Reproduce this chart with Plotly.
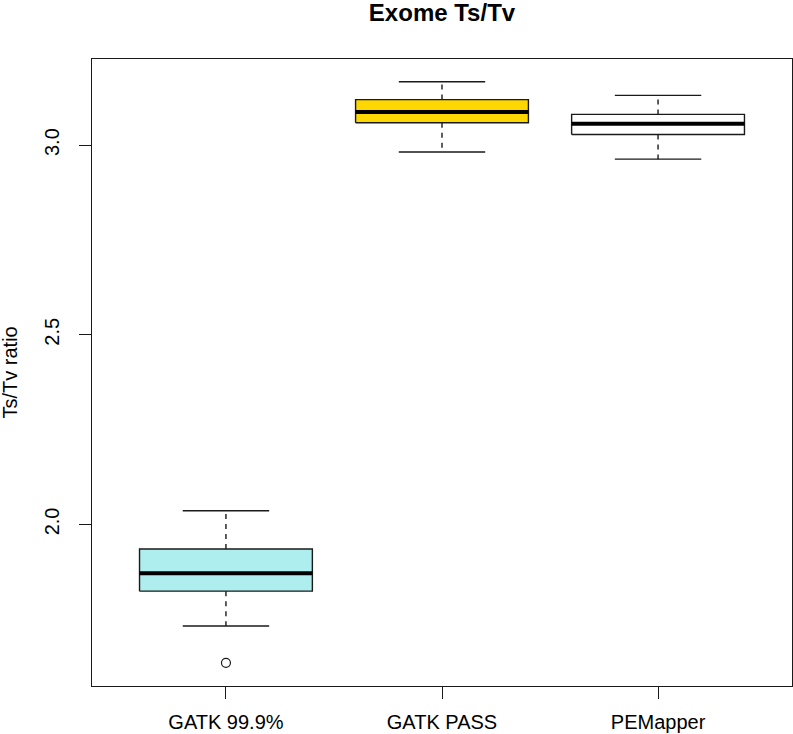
import plotly.graph_objects as go

# Ts/Tv ratio summary per caller (R boxplot style)
categories = ["GATK 99.9%", "GATK PASS", "PEMapper"]
lower_whisker = [1.732, 2.982, 2.963]
q1 = [1.824, 3.059, 3.028]
median = [1.871, 3.087, 3.056]
q3 = [1.935, 3.120, 3.081]
upper_whisker = [2.036, 3.167, 3.131]
outlier_cat = [1]
outlier_val = [1.635]
box_colors = ["#AFEEEE", "#FFD700", "#FFFFFF"]

BOX_HALF = 0.4
CAP_HALF = 0.2
INK = "#1a1a1a"

fig = go.Figure()

for i, name in enumerate(categories):
    c = i + 1
    # box body
    fig.add_trace(go.Scatter(
        x=[c - BOX_HALF, c + BOX_HALF, c + BOX_HALF, c - BOX_HALF, c - BOX_HALF],
        y=[q1[i], q1[i], q3[i], q3[i], q1[i]],
        mode="lines", fill="toself", fillcolor=box_colors[i],
        line=dict(color=INK, width=1.4), hoverinfo="skip", showlegend=False
    ))
    # dashed whiskers
    fig.add_trace(go.Scatter(
        x=[c, c, None, c, c],
        y=[q3[i], upper_whisker[i], None, q1[i], lower_whisker[i]],
        mode="lines", line=dict(color=INK, width=1.4, dash="5px,5px"),
        hoverinfo="skip", showlegend=False
    ))
    # caps
    fig.add_trace(go.Scatter(
        x=[c - CAP_HALF, c + CAP_HALF, None, c - CAP_HALF, c + CAP_HALF],
        y=[upper_whisker[i], upper_whisker[i], None, lower_whisker[i], lower_whisker[i]],
        mode="lines", line=dict(color=INK, width=1.4),
        hoverinfo="skip", showlegend=False
    ))
    # median
    fig.add_trace(go.Scatter(
        x=[c - BOX_HALF, c + BOX_HALF],
        y=[median[i], median[i]],
        mode="lines", line=dict(color="#000000", width=4),
        hovertemplate=f"{name}<br>median %{{y:.3f}}<extra></extra>", showlegend=False
    ))

fig.add_trace(go.Scatter(
    x=outlier_cat, y=outlier_val, mode="markers",
    marker=dict(symbol="circle-open", size=9, color=INK, line=dict(width=1.2)),
    showlegend=False
))

fig.update_layout(
    width=793, height=734, autosize=False,
    margin=dict(l=92, r=1, t=59, b=48),
    paper_bgcolor="white", plot_bgcolor="white",
    font=dict(family="Liberation Sans, Arial, Helvetica, sans-serif", size=20, color="#000000"),
    title=dict(text="<b>Exome Ts/Tv</b>", x=0.5 + (92 - 1) / 2 / 793, xanchor="center",
               y=1 - 4 / 734, yanchor="top", font=dict(size=24)),
    showlegend=False,
)
fig.update_xaxes(
    range=[0.38, 3.62], tickvals=[1, 2, 3], ticktext=categories, automargin=False,
    showgrid=False, zeroline=False, showline=True, linecolor=INK, linewidth=1.3, mirror=True,
    ticks="outside", ticklen=12, tickwidth=1.3, tickcolor=INK, ticklabelstandoff=6,
)
fig.update_yaxes(
    range=[1.574, 3.227], tickvals=[2.0, 2.5, 3.0], ticktext=["2.0", "2.5", "3.0"],
    tickangle=-90, automargin=False,
    showgrid=False, zeroline=False, showline=True, linecolor=INK, linewidth=1.3, mirror=True,
    ticks="outside", ticklen=12, tickwidth=1.3, tickcolor=INK, ticklabelstandoff=12,
)
fig.add_annotation(
    text="Ts/Tv ratio", textangle=-90, xref="paper", yref="paper",
    x=-(92 - 9) / 700, y=0.5, xanchor="center", yanchor="middle",
    showarrow=False, font=dict(size=20)
)

fig.write_html(
    "out.html",
    config={"responsive": False, "displayModeBar": False},
    post_script="document.body.style.margin='0';document.body.style.overflow='hidden';",
)
